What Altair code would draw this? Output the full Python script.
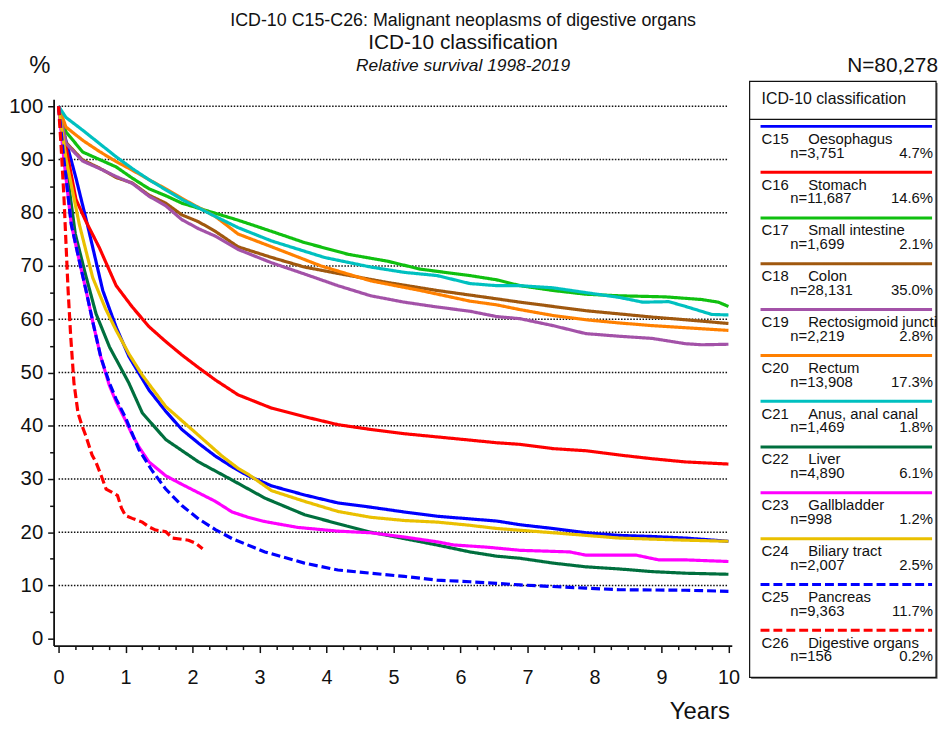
import altair as alt
import pandas as pd

# ---------------- texts ----------------
TITLE_1 = "ICD-10 C15-C26: Malignant neoplasms of digestive organs"
TITLE_2 = "ICD-10 classification"
TITLE_3 = "Relative survival 1998-2019"
TOTAL_N = "N=80,278"
Y_UNIT = "%"
X_TITLE = "Years"
LEGEND_HEADER = "ICD-10 classification"

# ---------------- legend / series meta ----------------
codes = ["C15", "C16", "C17", "C18", "C19", "C20", "C21", "C22", "C23", "C24", "C25", "C26"]
names = ["Oesophagus", "Stomach", "Small intestine", "Colon", "Rectosigmoid juncti", "Rectum",
         "Anus, anal canal", "Liver", "Gallbladder", "Biliary tract", "Pancreas", "Digestive organs"]
n_labels = ["n=3,751", "n=11,687", "n=1,699", "n=28,131", "n=2,219", "n=13,908",
            "n=1,469", "n=4,890", "n=998", "n=2,007", "n=9,363", "n=156"]
pct_labels = ["4.7%", "14.6%", "2.1%", "35.0%", "2.8%", "17.3%",
              "1.8%", "6.1%", "1.2%", "2.5%", "11.7%", "0.2%"]
colors = ["#0000FF", "#FF0000", "#10C010", "#A0580F", "#A352A8", "#FF8000",
          "#00C0C0", "#006F3E", "#FF00FF", "#EAC000", "#0000FF", "#FF0000"]
styles = ["solid", "solid", "solid", "solid", "solid", "solid",
          "solid", "solid", "solid", "solid", "dash", "dash"]

# ---------------- survival curves (years, %) ----------------
c15_t = [0, 0.1, 0.26, 0.43, 0.66, 0.86, 1.05, 1.35, 1.6, 1.84, 2.1, 2.34, 2.6, 2.83, 3.18, 3.67,
         4.17, 4.66, 5.16, 5.65, 6.14, 6.54, 6.89, 7.38, 7.87, 8.37, 8.86, 9.36, 10.0]
c15_v = [100, 94, 86.5, 77.8, 65.4, 58.5, 53, 46.7, 42.7, 39.3, 36.6, 34.3, 32.2, 30.6, 28.7, 27.0,
         25.5, 24.7, 23.8, 23.0, 22.5, 22.1, 21.4, 20.7, 19.9, 19.4, 19.2, 18.9, 18.3]

c16_t = [0, 0.1, 0.26, 0.4, 0.61, 0.86, 1.1, 1.35, 1.6, 1.84, 2.09, 2.34, 2.68, 3.18, 3.67, 4.17,
         4.66, 5.16, 5.65, 6.14, 6.54, 6.89, 7.38, 7.87, 8.37, 8.86, 9.36, 10.0]
c16_v = [100, 93, 82.5, 78.6, 73.4, 66.3, 62.3, 58.6, 55.8, 53.3, 50.9, 48.6, 45.8, 43.3, 41.7, 40.2,
         39.3, 38.5, 37.9, 37.3, 36.8, 36.5, 35.7, 35.3, 34.5, 33.8, 33.2, 32.8]

c17_t = [0, 0.11, 0.36, 0.61, 0.86, 1.1, 1.35, 1.6, 1.84, 2.34, 2.68, 3.18, 3.67, 4.32, 4.91, 5.4,
         6.14, 6.54, 6.89, 7.38, 7.87, 8.37, 9.06, 9.6, 9.85, 10.0]
c17_v = [100, 95.2, 91.4, 90.0, 88.6, 86.5, 84.5, 83.2, 81.8, 79.9, 78.6, 76.5, 74.4, 72.2, 70.9, 69.4,
         68.2, 67.4, 66.3, 65.4, 64.7, 64.4, 64.2, 63.7, 63.2, 62.4]

c18_t = [0, 0.11, 0.36, 0.61, 0.86, 1.1, 1.35, 1.6, 1.84, 2.09, 2.34, 2.68, 3.18, 3.67, 4.17, 4.91,
         5.65, 6.39, 6.89, 7.38, 7.87, 8.37, 8.86, 9.36, 10.0]
c18_v = [100, 93.2, 89.9, 88.4, 86.6, 85.6, 83.3, 81.8, 79.6, 78.3, 76.5, 73.6, 71.6, 69.8, 68.6, 66.9,
         65.4, 64.1, 63.2, 62.4, 61.6, 61.0, 60.4, 59.9, 59.2]

c19_t = [0, 0.11, 0.36, 0.61, 0.86, 1.1, 1.35, 1.6, 1.84, 2.09, 2.34, 2.68, 3.18, 3.67, 4.17, 4.66,
         5.16, 5.65, 6.14, 6.54, 6.89, 7.38, 7.87, 8.37, 8.86, 9.36, 9.6, 10.0]
c19_v = [100, 93.0, 89.7, 88.3, 86.8, 85.5, 83.1, 81.3, 78.7, 77.0, 75.6, 73.1, 70.6, 68.5, 66.3, 64.4,
         63.2, 62.3, 61.5, 60.5, 60.1, 58.8, 57.3, 56.8, 56.4, 55.4, 55.2, 55.3]

c20_t = [0, 0.11, 0.36, 0.61, 0.86, 1.1, 1.35, 1.6, 1.84, 2.34, 2.68, 3.18, 3.92, 4.66, 5.4, 6.14,
         6.54, 6.89, 7.38, 7.87, 8.37, 8.86, 9.36, 10.0]
c20_v = [100, 96.1, 93.6, 91.5, 89.6, 88.0, 86.2, 84.5, 82.7, 79.3, 76.0, 73.6, 70.0, 67.2, 65.4, 63.4,
         62.7, 61.8, 60.7, 59.9, 59.3, 58.8, 58.4, 57.9]

c21_t = [0, 0.11, 0.36, 0.61, 0.86, 1.1, 1.35, 1.6, 1.84, 2.34, 2.68, 3.18, 3.97, 4.66, 5.16, 5.65,
         6.14, 6.54, 6.89, 7.38, 7.87, 8.37, 8.72, 9.11, 9.36, 9.75, 10.0]
c21_v = [100, 97.9, 95.5, 93.0, 90.5, 88.3, 86.2, 84.3, 82.5, 79.3, 77.2, 74.7, 71.6, 69.8, 68.8, 68.2,
         66.7, 66.3, 66.3, 65.9, 65.0, 64.1, 63.2, 63.3, 62.4, 60.9, 60.8]

c22_t = [0, 0.1, 0.25, 0.4, 0.56, 0.76, 1.05, 1.25, 1.6, 2.09, 2.59, 3.08, 3.67, 4.17, 4.66, 5.16,
         5.65, 6.14, 6.54, 6.89, 7.38, 7.87, 8.37, 8.86, 9.36, 10.0]
c22_v = [100, 90, 76, 68.5, 61, 54.8, 48, 42.4, 37.4, 33.2, 29.8, 26.4, 23.3, 21.6, 20.0, 18.8,
         17.6, 16.3, 15.5, 15.1, 14.2, 13.5, 13.1, 12.6, 12.3, 12.1]

c23_t = [0, 0.08, 0.19, 0.3, 0.41, 0.52, 0.63, 0.76, 0.86, 1.0, 1.1, 1.2, 1.35, 1.6, 1.84, 2.09,
         2.34, 2.59, 2.83, 3.08, 3.57, 4.17, 4.66, 5.16, 5.65, 5.9, 6.39, 6.89, 7.63, 7.87, 8.62,
         8.96, 9.36, 10.0]
c23_v = [100, 90, 77.8, 71.5, 65.4, 59, 52.9, 47.5, 44.5, 41, 38.3, 36, 33.2, 30.6, 29.0, 27.4,
         25.8, 23.8, 22.8, 22.0, 20.9, 20.2, 19.9, 19.1, 18.2, 17.6, 17.2, 16.6, 16.3, 15.7, 15.7,
         14.8, 14.8, 14.5]

c24_t = [0, 0.11, 0.21, 0.31, 0.51, 0.7, 0.86, 1.05, 1.25, 1.6, 1.99, 2.44, 2.68, 2.83, 3.18, 3.67,
         4.17, 4.66, 5.16, 5.65, 6.14, 6.54, 7.38, 8.37, 9.36, 10.0]
c24_v = [100, 90.2, 84, 77.8, 67.8, 62, 57.9, 53.5, 49.5, 43.6, 39.3, 34.3, 32.0, 30.9, 27.8, 25.8,
         23.9, 22.8, 22.2, 21.9, 21.3, 20.7, 19.9, 18.9, 18.5, 18.3]

c25_t = [0, 0.08, 0.19, 0.3, 0.41, 0.52, 0.63, 0.76, 0.86, 1.0, 1.1, 1.2, 1.4, 1.6, 1.84, 2.09,
         2.34, 2.59, 3.08, 3.67, 4.17, 4.66, 5.16, 5.65, 6.14, 6.54, 6.89, 7.38, 7.87, 8.37, 9.36, 10.0]
c25_v = [100, 90, 77.8, 71.5, 65.4, 59, 52.9, 48, 45, 41.5, 38.5, 35.5, 31.5, 28.1, 25.0, 22.5,
         20.5, 18.8, 16.3, 14.2, 12.9, 12.3, 11.7, 11.0, 10.7, 10.4, 10.1, 9.8, 9.5, 9.2, 9.1, 8.9]

c26_t = [0, 0.04, 0.08, 0.14, 0.18, 0.23, 0.29, 0.35, 0.41, 0.5, 0.56, 0.64, 0.71, 0.8, 0.88, 0.94,
         1.0, 1.1, 1.25, 1.35, 1.45, 1.6, 1.7, 1.94, 2.05, 2.15]
c26_v = [100, 92, 83, 66, 57, 48, 42.4, 40, 38.0, 34.5, 33.1, 30.5, 28.1, 27.5, 26.9, 24.5,
         23.1, 22.6, 21.9, 21.0, 20.4, 20.1, 18.9, 18.5, 17.9, 16.9]

series_t = [c15_t, c16_t, c17_t, c18_t, c19_t, c20_t, c21_t, c22_t, c23_t, c24_t, c25_t, c26_t]
series_v = [c15_v, c16_v, c17_v, c18_v, c19_v, c20_v, c21_v, c22_v, c23_v, c24_v, c25_v, c26_v]

# ---------------- axes ----------------
x_ticks = [i / 4 for i in range(0, 41)]
y_ticks = [i * 5 for i in range(0, 21)]
grid_values = [10, 20, 30, 40, 50, 60, 70, 80, 90, 100]

FONT = "Liberation Sans"
INK = "#111111"

rows = []
for code, st, ts, vs in zip(codes, styles, series_t, series_v):
    for t, v in zip(ts, vs):
        rows.append({"code": code, "style": st, "t": t, "v": v})
curves = pd.DataFrame(rows)

grid_df = pd.DataFrame({"v": grid_values, "t": [0] * len(grid_values), "t_end": [10] * len(grid_values)})

legend_df = pd.DataFrame({"code": codes, "name": names, "n": n_labels, "pct": pct_labels, "style": styles})

xscale = alt.Scale(domain=[-0.074, 10.05], nice=False, zero=False)
yscale = alt.Scale(domain=[-1.3, 101.3], nice=False, zero=False)

x_axis = alt.Axis(
    values=x_ticks,
    labelExpr="datum.value % 1 === 0 ? '' + datum.value : ''",
    tickSize={"condition": {"test": "datum.value % 1 === 0", "value": 7}, "value": 4},
    tickColor=INK, tickWidth=1.5, domainColor=INK, domainWidth=1.8,
    labelFont=FONT, labelFontSize=20, labelColor=INK, labelPadding=15,
    labelOverlap=False, labelFlush=False, grid=False, title=None,
)
y_axis = alt.Axis(
    values=y_ticks,
    labelExpr="datum.value % 10 === 0 ? '' + datum.value : ''",
    tickSize={"condition": {"test": "datum.value % 10 === 0", "value": 6}, "value": 4},
    tickColor=INK, tickWidth=1.5, domainColor=INK, domainWidth=1.8,
    labelFont=FONT, labelFontSize=20.5, labelColor=INK, labelPadding=5,
    labelOverlap=False, grid=False, title=None,
)

color_scale = alt.Scale(domain=codes, range=colors)
dash_scale = alt.Scale(domain=["solid", "dash"], range=[[1, 0], [9, 4]])

grid = alt.Chart(grid_df).mark_rule(color=INK, strokeWidth=1.6, strokeDash=[1.5, 1.6]).encode(
    x=alt.X("t:Q", scale=xscale, axis=x_axis),
    x2="t_end:Q",
    y=alt.Y("v:Q", scale=yscale, axis=y_axis),
)

lines = alt.Chart(curves).mark_line(strokeWidth=3.2).encode(
    x=alt.X("t:Q", scale=xscale, axis=x_axis),
    y=alt.Y("v:Q", scale=yscale, axis=y_axis),
    color=alt.Color("code:N", scale=color_scale, legend=None),
    strokeDash=alt.StrokeDash("style:N", scale=dash_scale, legend=None),
    detail="code:N",
)

main = alt.layer(grid, lines)

# ---------------- legend panel ----------------
one = pd.DataFrame({"k": [0]})
ly = alt.Y("code:N", scale=alt.Scale(type="point", domain=codes, range=[27.3, 535.5], padding=0), axis=None)

shadow = alt.Chart(one).mark_rect(fill="#555555").encode(
    x=alt.value(703.5), x2=alt.value(891.5), y=alt.value(-16.5), y2=alt.value(584.5))
box = alt.Chart(one).mark_rect(fill="white", stroke=INK, strokeWidth=1.2).encode(
    x=alt.value(702), x2=alt.value(890), y=alt.value(-18), y2=alt.value(583))
sep = alt.Chart(one).mark_rule(color=INK, strokeWidth=1.2).encode(
    x=alt.value(702), x2=alt.value(890), y=alt.value(20.3))
header = alt.Chart(one).mark_text(text=LEGEND_HEADER, align="left", baseline="alphabetic",
                                  font=FONT, fontSize=16, color=INK).encode(
    x=alt.value(714), y=alt.value(5))

leg_rules = alt.Chart(legend_df).mark_rule(strokeWidth=3).encode(
    x=alt.value(713), x2=alt.value(886), y=ly,
    color=alt.Color("code:N", scale=color_scale, legend=None),
    strokeDash=alt.StrokeDash("style:N", scale=dash_scale, legend=None),
)
txt = dict(baseline="alphabetic", font=FONT, fontSize=15, color=INK)
leg_code = alt.Chart(legend_df).mark_text(align="left", dy=17.5, **txt).encode(
    x=alt.value(714), y=ly, text="code:N")
leg_name = alt.Chart(legend_df).mark_text(align="left", dy=17.5, **txt).encode(
    x=alt.value(761), y=ly, text="name:N")
leg_n = alt.Chart(legend_df).mark_text(align="left", dy=31.5, **txt).encode(
    x=alt.value(743), y=ly, text="n:N")
leg_pct = alt.Chart(legend_df).mark_text(align="right", dy=31.5, **txt).encode(
    x=alt.value(887), y=ly, text="pct:N")

legend = alt.layer(shadow, box, sep, header, leg_rules, leg_code, leg_name, leg_n, leg_pct)

# ---------------- titles ----------------
def label(text, x, y, size, align="center", style="normal"):
    return alt.Chart(one).mark_text(text=text, align=align, baseline="alphabetic", font=FONT,
                                    fontSize=size, fontStyle=style, color=INK).encode(
        x=alt.value(x), y=alt.value(y))

titles = alt.layer(
    label(TITLE_1, 413, -74, 18),
    label(TITLE_2, 413, -51, 21),
    label(TITLE_3, 413, -29, 17.5, style="italic"),
    label(Y_UNIT, -14, -27, 24),
    label(TOTAL_N, 892, -28, 21, align="right"),
    label(X_TITLE, 682, 625, 24, align="right"),
)

chart = alt.layer(main, legend, titles).resolve_scale(y="independent").properties(
    width=684, height=551,
    autosize=alt.AutoSizeParams(type="none"),
    padding={"left": 46, "top": 89, "right": 210, "bottom": 82},
    background="white",
).configure_view(stroke=None)

chart.save("out.html", embed_options={"renderer": "svg", "actions": False})
